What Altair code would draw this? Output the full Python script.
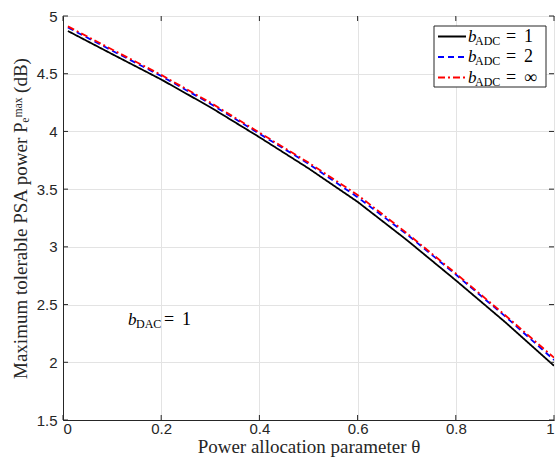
import altair as alt
import pandas as pd

# ---- data ----
theta = [0.01, 0.1, 0.2, 0.3, 0.4, 0.5, 0.6, 0.7, 0.8, 0.9, 1.0]
p_adc1 = [4.87, 4.67, 4.45, 4.21, 3.95, 3.68, 3.39, 3.06, 2.71, 2.35, 1.97]
p_adc2 = [4.90, 4.70, 4.48, 4.24, 3.98, 3.72, 3.43, 3.11, 2.76, 2.40, 2.02]
p_adcinf = [4.91, 4.71, 4.49, 4.25, 3.99, 3.73, 3.45, 3.12, 2.77, 2.41, 2.04]
series_names = ["b_ADC = 1", "b_ADC = 2", "b_ADC = inf"]
legend_values = ["1", "2", "∞"]
series_colors = ["#000000", "#0000ff", "#ff0000"]
series_dash = [[1, 0], [6, 4], [7, 3, 2, 3]]
x_ticks = [0, 0.2, 0.4, 0.6, 0.8, 1]
y_ticks = [1.5, 2, 2.5, 3, 3.5, 4, 4.5, 5]
x_title = "Power allocation parameter θ"
y_title = "Maximum tolerable PSA power Pₑᵐᵃˣ (dB)"
note_value = "1"

W, H = 491, 404
INK = "#262626"
SERIF = "Liberation Serif"
SANS = "Liberation Sans"

rows = []
for name, vals in zip(series_names, [p_adc1, p_adc2, p_adcinf]):
    for t, v in zip(theta, vals):
        rows.append({"theta": t, "P": v, "series": name})
df = pd.DataFrame(rows)

xscale = alt.Scale(domain=[0, 1], nice=False, zero=False)
yscale = alt.Scale(domain=[1.5, 5], nice=False, zero=False)
xaxis = alt.Axis(values=x_ticks, format="~g", title=x_title)
yaxis = alt.Axis(values=y_ticks, format="~g", title=y_title)

lines = alt.Chart(df).mark_line(strokeWidth=1.8, clip=True).encode(
    x=alt.X("theta:Q", scale=xscale, axis=xaxis),
    y=alt.Y("P:Q", scale=yscale, axis=yaxis),
    color=alt.Color("series:N", scale=alt.Scale(domain=series_names, range=series_colors), legend=None),
    strokeDash=alt.StrokeDash("series:N", scale=alt.Scale(domain=series_names, range=series_dash), legend=None),
)

# inward ticks on all four sides
xt = pd.DataFrame({"theta": x_ticks})
yt = pd.DataFrame({"P": y_ticks})
tick_style = dict(color=INK, strokeWidth=1)
xt_bottom = alt.Chart(xt).mark_rule(**tick_style).encode(
    x=alt.X("theta:Q", scale=xscale, axis=xaxis), y=alt.value(H), y2=alt.value(H - 5))
xt_top = alt.Chart(xt).mark_rule(**tick_style).encode(
    x=alt.X("theta:Q", scale=xscale, axis=xaxis), y=alt.value(0), y2=alt.value(5))
yt_left = alt.Chart(yt).mark_rule(**tick_style).encode(
    y=alt.Y("P:Q", scale=yscale, axis=yaxis), x=alt.value(0), x2=alt.value(5))
yt_right = alt.Chart(yt).mark_rule(**tick_style).encode(
    y=alt.Y("P:Q", scale=yscale, axis=yaxis), x=alt.value(W), x2=alt.value(W - 5))

# legend (drawn manually to allow italic symbol + subscript)
one = pd.DataFrame({"k": [0]})
LX0, LX1, LY0, LY1 = 371, 483, 10, 71
legend_layers = [
    alt.Chart(one).mark_rect(fill="white", stroke=INK, strokeWidth=1).encode(
        x=alt.value(LX0), x2=alt.value(LX1), y=alt.value(LY0), y2=alt.value(LY1))
]
row_y = [20.5, 41, 61.5]
for i, (name, val) in enumerate(zip(series_names, legend_values)):
    ry = row_y[i]
    d = pd.DataFrame({"b": ["b"], "sub": ["ADC"], "eq": ["="], "val": [val]})
    legend_layers.append(
        alt.Chart(d).mark_rule(color=series_colors[i], strokeWidth=1.8,
                               strokeDash=series_dash[i]).encode(
            x=alt.value(375), x2=alt.value(403), y=alt.value(ry)))
    legend_layers.append(
        alt.Chart(d).mark_text(font=SERIF, fontSize=17, fontStyle="italic",
                               align="left", baseline="middle", color="black").encode(
            text="b:N", x=alt.value(405), y=alt.value(ry)))
    legend_layers.append(
        alt.Chart(d).mark_text(font=SERIF, fontSize=12, align="left",
                               baseline="middle", color="black").encode(
            text="sub:N", x=alt.value(412), y=alt.value(ry + 4)))
    legend_layers.append(
        alt.Chart(d).mark_text(font=SERIF, fontSize=18, align="left",
                               baseline="middle", color="black").encode(
            text="eq:N", x=alt.value(443), y=alt.value(ry)))
    legend_layers.append(
        alt.Chart(d).mark_text(font=SERIF, fontSize=18, align="left",
                               baseline="middle", color="black").encode(
            text="val:N", x=alt.value(461), y=alt.value(ry)))

# annotation b_DAC = 1
nd = pd.DataFrame({"b": ["b"], "sub": ["DAC"], "eq": ["="], "val": [note_value]})
note = [
    alt.Chart(nd).mark_text(font=SERIF, fontSize=17, fontStyle="italic",
                            align="left", baseline="middle", color="black").encode(
        text="b:N", x=alt.value(65), y=alt.value(304)),
    alt.Chart(nd).mark_text(font=SERIF, fontSize=12, align="left",
                            baseline="middle", color="black").encode(
        text="sub:N", x=alt.value(73), y=alt.value(308)),
    alt.Chart(nd).mark_text(font=SERIF, fontSize=18, align="left",
                            baseline="middle", color="black").encode(
        text="eq:N", x=alt.value(101), y=alt.value(304)),
    alt.Chart(nd).mark_text(font=SERIF, fontSize=18, align="left",
                            baseline="middle", color="black").encode(
        text="val:N", x=alt.value(119), y=alt.value(304)),
]

chart = alt.layer(
    lines, xt_bottom, xt_top, yt_left, yt_right, *legend_layers, *note
).properties(
    width=W, height=H,
    autosize=alt.AutoSizeParams(type="none"),
    padding={"left": 63, "top": 16, "right": 2, "bottom": 42},
    background="white",
).configure_view(
    stroke=INK, strokeWidth=1
).configure_axis(
    grid=True, gridColor="#e3e3e3", gridWidth=1,
    domainColor=INK, domainWidth=1,
    tickSize=0,
    labelFont=SANS, labelFontSize=15, labelColor=INK,
    titleFont=SERIF, titleFontSize=19, titleColor=INK, titleFontWeight="normal",
).configure_axisX(
    labelPadding=1, titlePadding=1
).configure_axisY(
    labelPadding=6, titlePadding=6
)

chart.save("out.html", embed_options={"renderer": "svg", "actions": False})
